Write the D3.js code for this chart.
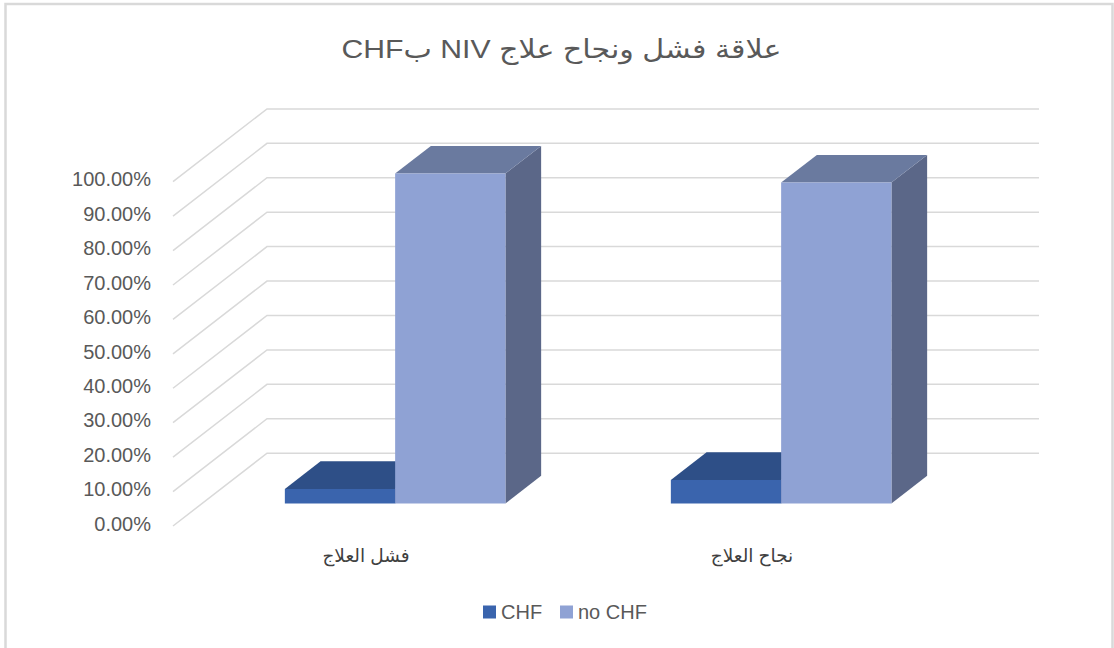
<!DOCTYPE html>
<html>
<head>
<meta charset="utf-8">
<script src="https://cdn.jsdelivr.net/npm/d3@7"></script>
<style>
  html, body { margin: 0; padding: 0; background: #ffffff; }
  svg { display: block; }
  text { font-family: "Liberation Sans", Arial, "DejaVu Sans", sans-serif; }
</style>
</head>
<body>
<svg id="chart" width="1114" height="648"></svg>
<script>
// ---- data ----
const titleText = "علاقة فشل ونجاح علاج NIV بCHF";
const categories = ["فشل العلاج", "نجاح العلاج"];
const seriesNames = ["CHF", "no CHF"];
const chfValues = [0.042, 0.068];
const noChfValues = [0.958, 0.932];
const tickValues = [0, 0.1, 0.2, 0.3, 0.4, 0.5, 0.6, 0.7, 0.8, 0.9, 1.0];

const seriesValues = { "CHF": chfValues, "no CHF": noChfValues };
const colors = {
  "CHF": { front: "#3a64ad", top: "#2e4f87", side: "#2a4575" },
  "no CHF": { front: "#8fa2d4", top: "#6a7a9f", side: "#5b6788" }
};

const svg = d3.select("#chart");

// frame
svg.append("rect").attr("x", 5.5).attr("y", 4).attr("width", 1107).attr("height", 660)
  .attr("fill", "#ffffff").attr("stroke", "#d9d9d9").attr("stroke-width", 2.5);

// ---- scales ----
const frontLeft = 173, frontRight = 945;
const y = d3.scaleLinear().domain([0, 1]).range([526, 181.7]);
const depthX = d3.scaleLinear().domain([0, 1]).range([0, 94]);
const depthY = d3.scaleLinear().domain([0, 1]).range([0, -72.8]);
const x = d3.scaleBand().domain(categories).range([frontLeft, frontRight]).paddingInner(0).paddingOuter(0);
const xSub = d3.scaleBand().domain(seriesNames).range([0, x.bandwidth()]).paddingOuter(0.75).paddingInner(0);
const barD0 = 0.31, barD1 = 0.69;

// ---- gridlines ----
const grid = svg.append("g");
tickValues.forEach(t => {
  const fx = frontLeft, fy = y(t);
  const bx = frontLeft + depthX(1), by = y(t) + depthY(1);
  grid.append("path")
    .attr("d", `M${fx},${fy}L${bx},${by}L${frontRight + depthX(1)},${by}`)
    .attr("fill", "none").attr("stroke", "#d9d9d9").attr("stroke-width", 1.5);
});

// ---- y labels ----
const fmt = d3.format(".2%");
svg.append("g").selectAll("text").data(tickValues).join("text")
  .attr("x", 151).attr("y", d => y(d) - 0.5)
  .attr("text-anchor", "end").attr("dominant-baseline", "middle")
  .attr("font-size", 20).attr("fill", "#595959")
  .text(d => fmt(d));

// ---- bars ----
const bars = svg.append("g");
categories.forEach((c, ci) => {
  seriesNames.forEach(s => {
    const v = seriesValues[s][ci];
    const x0 = x(c) + xSub(s), x1 = x0 + xSub.bandwidth();
    const ox0 = depthX(barD0), oy0 = depthY(barD0);
    const ox1 = depthX(barD1), oy1 = depthY(barD1);
    const yb = y(0), yt = y(v);
    const col = colors[s];
    const pts = a => a.map(p => p.join(",")).join(" ");
    bars.append("polygon").attr("points", pts([
      [x1 + ox0, yb + oy0], [x1 + ox0, yt + oy0], [x1 + ox1, yt + oy1], [x1 + ox1, yb + oy1]
    ])).attr("fill", col.side);
    bars.append("polygon").attr("points", pts([
      [x0 + ox0, yt + oy0], [x1 + ox0, yt + oy0], [x1 + ox1, yt + oy1], [x0 + ox1, yt + oy1]
    ])).attr("fill", col.top);
    bars.append("polygon").attr("points", pts([
      [x0 + ox0, yb + oy0], [x1 + ox0, yb + oy0], [x1 + ox0, yt + oy0], [x0 + ox0, yt + oy0]
    ])).attr("fill", col.front);
  });
});

// ---- category labels ----
svg.append("g").selectAll("text").data(categories).join("text")
  .attr("x", d => x(d) + x.bandwidth() / 2).attr("y", 562)
  .attr("text-anchor", "middle").attr("direction", "rtl")
  .attr("font-size", 18.5).attr("fill", "#404040")
  .text(d => d);

// ---- title ----
svg.append("text").attr("x", 561.5).attr("y", 58)
  .attr("text-anchor", "middle").attr("direction", "rtl")
  .attr("font-size", 26).attr("fill", "#595959")
  .attr("textLength", 440).attr("lengthAdjust", "spacingAndGlyphs")
  .text(titleText);

// ---- legend ----
const legend = svg.append("g");
const legendItems = [{ name: "CHF", x: 483 }, { name: "no CHF", x: 560 }];
legendItems.forEach(it => {
  legend.append("rect").attr("x", it.x).attr("y", 605.5).attr("width", 13).attr("height", 13)
    .attr("fill", colors[it.name].front);
  legend.append("text").attr("x", it.x + 18).attr("y", 618.5)
    .attr("font-size", 20).attr("fill", "#595959").text(it.name);
});
</script>
</body>
</html>
